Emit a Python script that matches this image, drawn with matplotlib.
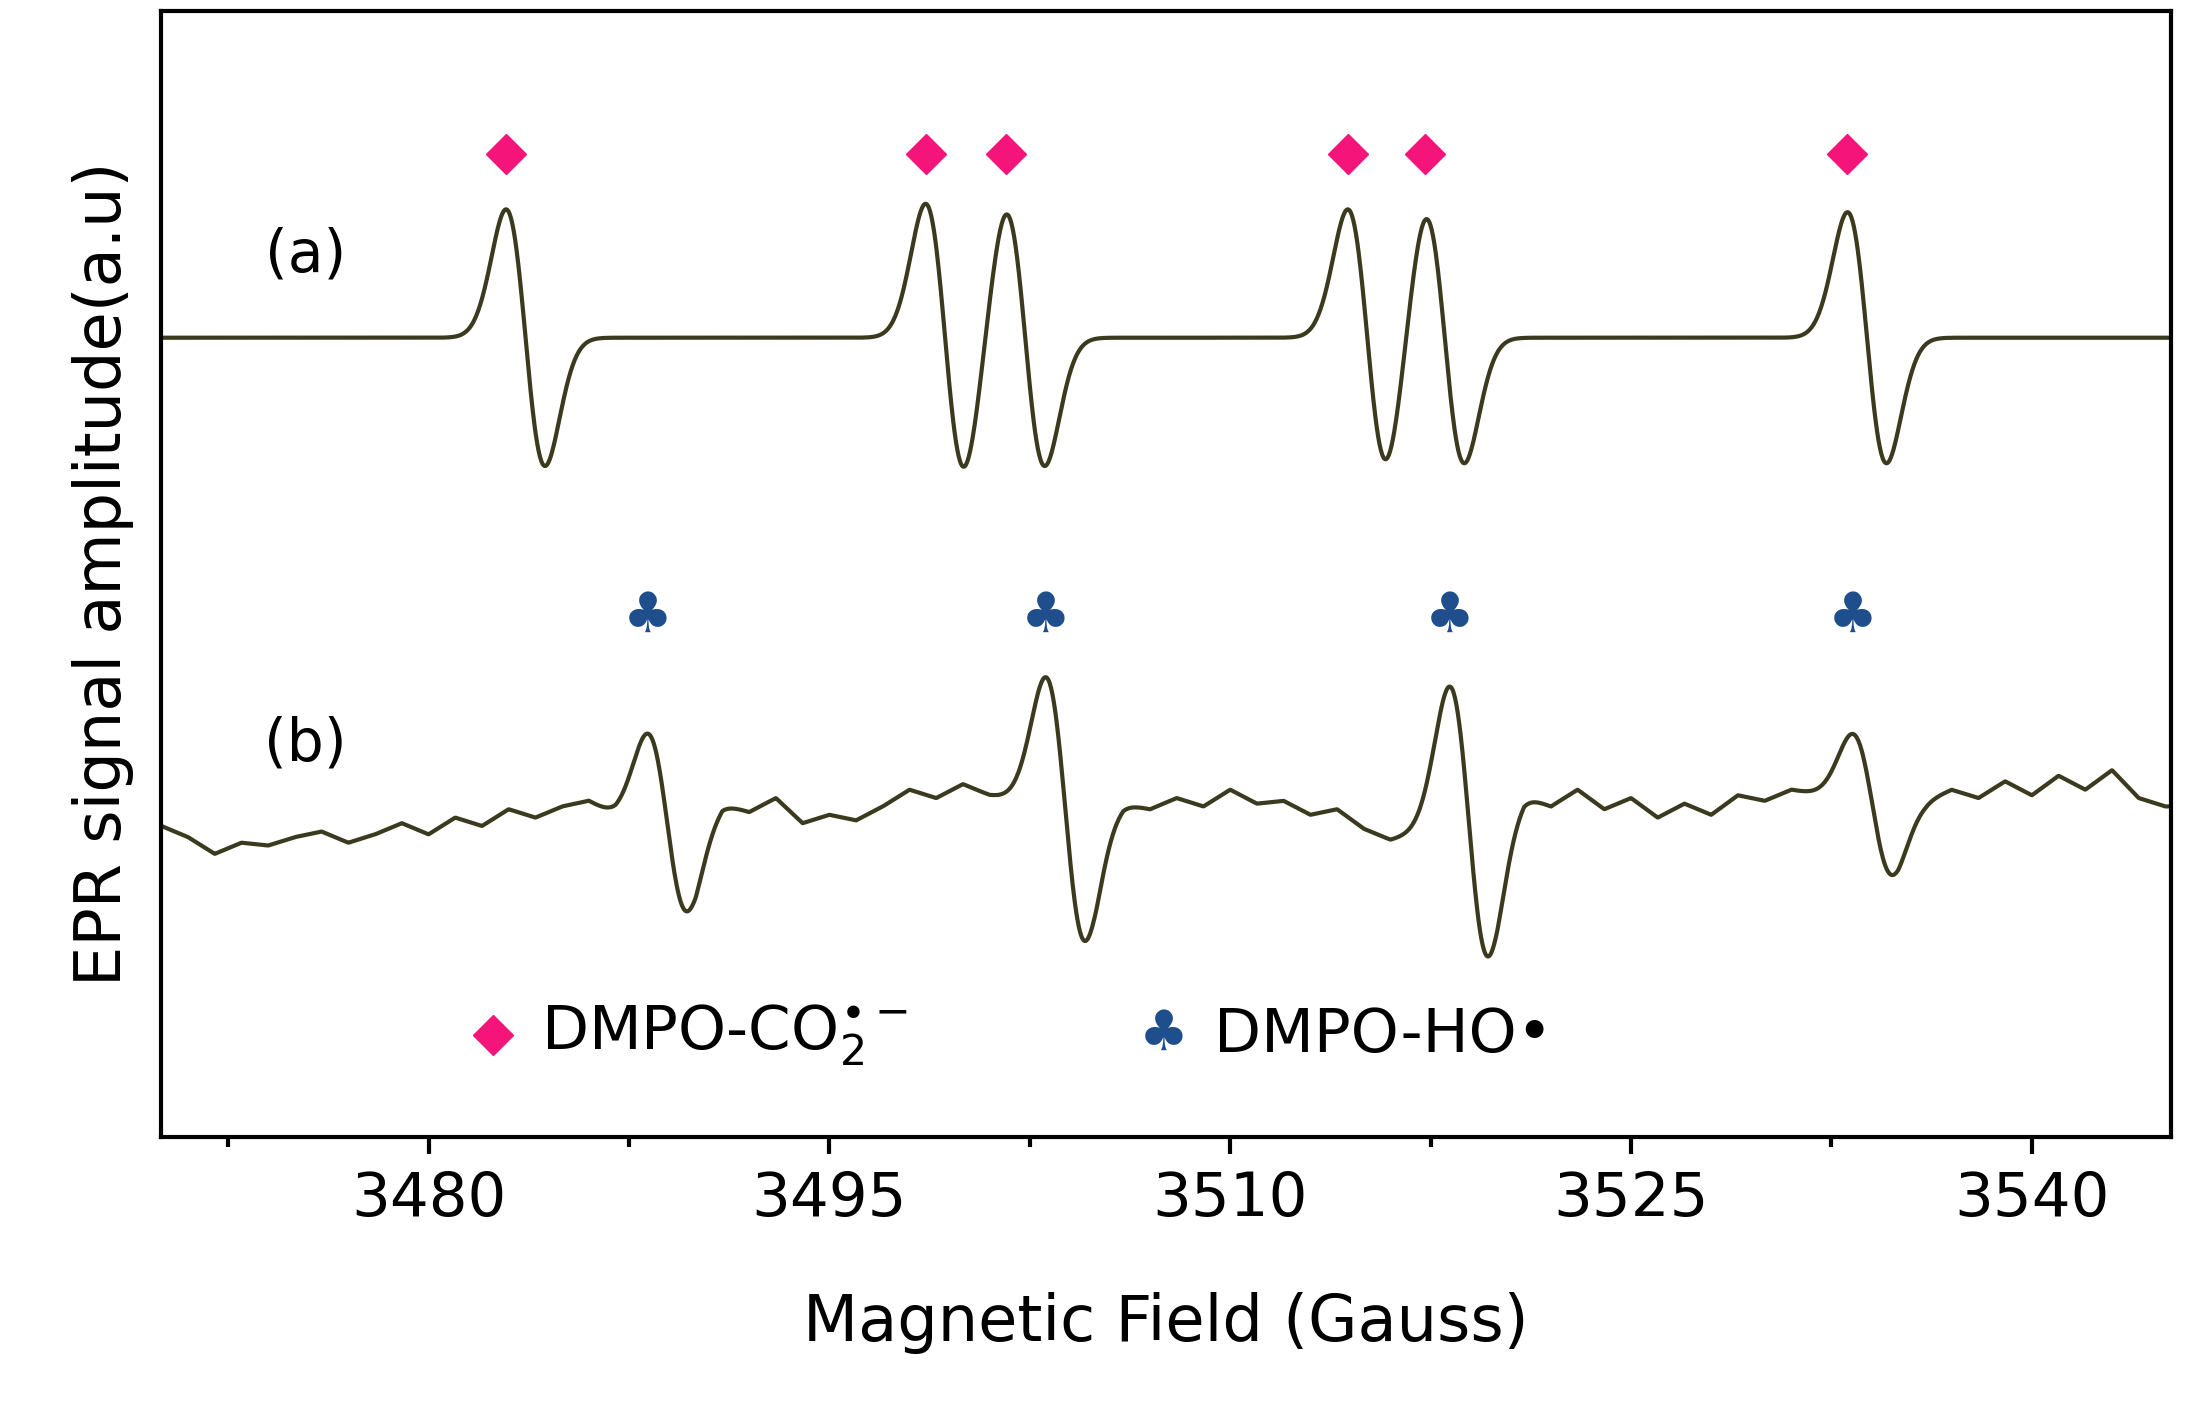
import numpy as np
import matplotlib.pyplot as plt

# peak maxima (Gauss) and derivative amplitudes, y in picture units
a_peaks = [3482.9, 3498.6, 3501.6, 3514.4, 3517.3, 3533.1]
a_amps = [92, 96, 92, 92, 90, 90]
b_peaks = [3488.2, 3503.1, 3518.2, 3533.3]
b_amps = [62, 92, 100, 48]
club_pos = [3488.2, 3503.1, 3518.2, 3533.3]
# hand-read baseline wobble of trace (b)
b_wob_x = [3470, 3471, 3472, 3473, 3474, 3475, 3476, 3477, 3478, 3479, 3480, 3481, 3482,
           3483, 3484, 3485, 3486, 3487, 3490, 3491, 3492, 3493, 3494, 3495, 3496,
           3497, 3498, 3499, 3500, 3501, 3505, 3506, 3507, 3508, 3509, 3510, 3511,
           3512, 3513, 3514, 3515, 3516, 3520, 3521, 3522, 3523, 3524, 3525, 3526,
           3527, 3528, 3529, 3530, 3531, 3535, 3536, 3537, 3538, 3539, 3540, 3541,
           3542, 3543, 3544, 3545]
b_wob_y = [-592, -600, -612, -604, -606, -600, -596, -604, -598, -590, -598, -586, -592,
           -580, -586, -578, -574, -585, -592, -576, -582, -572, -590, -584, -588,
           -578, -566, -572, -562, -570, -584, -576, -580, -572, -578, -566, -576,
           -574, -584, -580, -594, -602, -584, -570, -578, -566, -580, -572, -586,
           -576, -584, -570, -574, -566, -580, -574, -566, -572, -560, -570, -556,
           -566, -552, -572, -578]

x = np.linspace(3470, 3545.2, 3000)
sig = 0.73


def deriv(x, peaks, amps):
    y = np.zeros_like(x)
    for p, a in zip(peaks, amps):
        u = (x - p - sig) / sig
        y += -a * u * np.exp(0.5 - 0.5 * u**2)
    return y


ya = -242 + deriv(x, a_peaks, a_amps)
yb = np.interp(x, b_wob_x, b_wob_y) + deriv(x, b_peaks, b_amps)

fig = plt.figure(figsize=(21.89, 14.09), dpi=100)
ax = fig.add_axes([0.0737, 0.193, 0.918, 0.799])
col = '#3b3a1f'
ax.plot(x, ya, color=col, lw=3)
ax.plot(x, yb, color=col, lw=3)
ax.plot(a_peaks, [-110] * len(a_peaks), 'D', color='#f5157a', ms=20)
for c in club_pos:
    ax.text(c, -442, '\u2663', color='#1f4e8c', fontsize=40, ha='center', va='center')
ax.text(3475.4, -183, '(a)', fontsize=42, ha='center', va='center')
ax.text(3475.4, -533, '(b)', fontsize=42, ha='center', va='center')
ax.plot([3482.4], [-742], 'D', color='#f5157a', ms=20)
ax.text(3484.2, -742, 'DMPO-CO$_2^{\\bullet-}$', fontsize=44, va='center')
ax.text(3507.5, -742, '\u2663', color='#1f4e8c', fontsize=40, ha='center', va='center')
ax.text(3509.4, -742, 'DMPO-HO\u2022', fontsize=44, va='center')

ax.set_xlim(3470, 3545.2)
ax.set_ylim(-815, -8)
ax.set_xticks([3480, 3495, 3510, 3525, 3540])
ax.set_xticks(np.arange(3472.5, 3545, 15), minor=True)
ax.set_yticks([])
ax.tick_params(axis='x', which='major', labelsize=44, length=12, width=3, pad=12)
ax.tick_params(axis='x', which='minor', length=7, width=3)
for s in ax.spines.values():
    s.set_linewidth(3)
ax.set_xlabel('Magnetic Field (Gauss)', fontsize=46, labelpad=45)
ax.set_ylabel('EPR signal amplitude(a.u)', fontsize=46, labelpad=20)
fig.savefig('out.png')
